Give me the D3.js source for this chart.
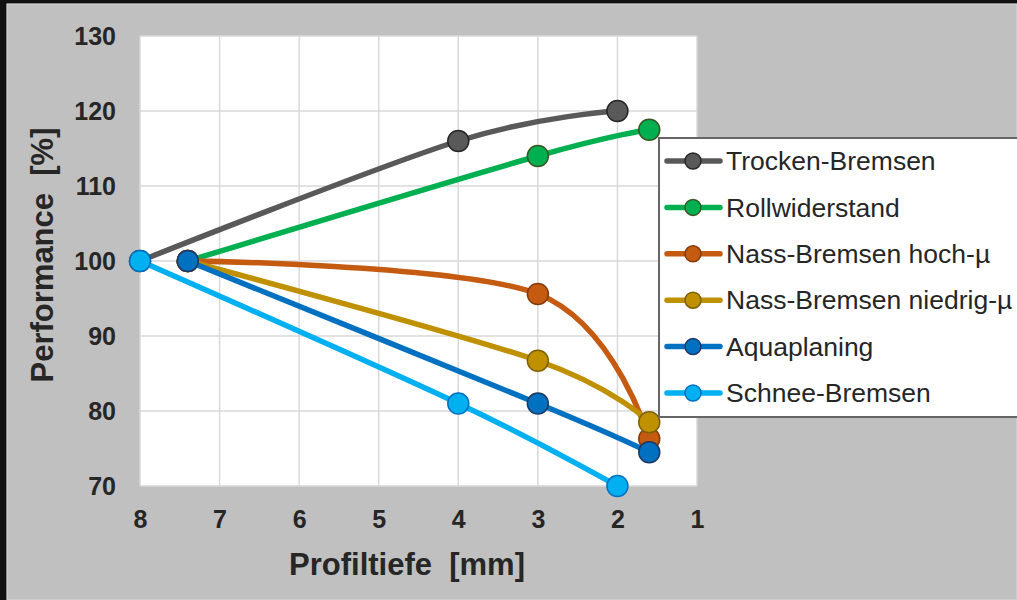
<!DOCTYPE html>
<html>
<head>
<meta charset="utf-8">
<script src="https://cdn.jsdelivr.net/npm/d3@7"></script>
<style>
  html, body { margin: 0; padding: 0; background: #000; }
  svg { display: block; }
  text { font-family: "Liberation Sans", Arial, sans-serif; fill: #262626; white-space: pre; }
</style>
</head>
<body>
<svg id="chart" width="1017" height="600"></svg>
<script>
// Tread depth (mm) for each measured point of a series
const depthTrocken = [8, 4, 2];
const depthRoll = [7.4, 3, 1.6];
const depthNassHoch = [7.4, 3, 1.6];
const depthNassNiedrig = [7.4, 3, 1.6];
const depthAqua = [7.4, 3, 1.6];
const depthSchnee = [8, 4, 2];

// Performance in percent of a new tyre
const perfTrocken = [100, 116, 120];
const perfRoll = [100, 114, 117.5];
const perfNassHoch = [100, 95.6, 76.3];
const perfNassNiedrig = [100, 86.7, 78.5];
const perfAqua = [100, 81, 74.5];
const perfSchnee = [100, 81, 70];

const seriesNames = ["Trocken-Bremsen", "Rollwiderstand", "Nass-Bremsen hoch-\u00b5",
                     "Nass-Bremsen niedrig-\u00b5", "Aquaplaning", "Schnee-Bremsen"];
const lineColors = ["#595959", "#00b050", "#c55a11", "#bf9000", "#0070c0", "#00b0f0"];
const markerStrokes = ["#262626", "#385723", "#843c0c", "#7f6000", "#1f3864", "#0070c0"];

const xTicks = [8, 7, 6, 5, 4, 3, 2, 1];
const yTicks = [70, 80, 90, 100, 110, 120, 130];

const series = [
  { name: seriesNames[0], x: depthTrocken, y: perfTrocken },
  { name: seriesNames[1], x: depthRoll, y: perfRoll },
  { name: seriesNames[2], x: depthNassHoch, y: perfNassHoch },
  { name: seriesNames[3], x: depthNassNiedrig, y: perfNassNiedrig },
  { name: seriesNames[4], x: depthAqua, y: perfAqua },
  { name: seriesNames[5], x: depthSchnee, y: perfSchnee }
].map((s, i) => ({ ...s, color: lineColors[i], stroke: markerStrokes[i],
                   points: s.x.map((v, j) => [v, s.y[j]]) }));

const svg = d3.select("#chart");
const W = 1017, H = 600;

// Frame: dark outer border, grey chart area
svg.append("rect").attr("x", 0).attr("y", 0).attr("width", W).attr("height", H).attr("fill", "#111");
svg.append("rect").attr("x", 7).attr("y", 4).attr("width", W - 7).attr("height", H - 4)
  .attr("fill", "#c0c0c0").attr("stroke", "#d6d6d6").attr("stroke-width", 1.2);

const plot = { left: 140, right: 697, top: 36, bottom: 486 };

const x = d3.scaleLinear().domain([8, 1]).range([plot.left, plot.right]);
const y = d3.scaleLinear().domain([70, 130]).range([plot.bottom, plot.top]);

// Plot area
svg.append("rect")
  .attr("x", plot.left).attr("y", plot.top)
  .attr("width", plot.right - plot.left).attr("height", plot.bottom - plot.top)
  .attr("fill", "#ffffff");

// Gridlines
const grid = svg.append("g").attr("stroke", "#d9d9d9").attr("stroke-width", 1.5);
grid.selectAll("line.h").data(yTicks).join("line")
  .attr("x1", plot.left).attr("x2", plot.right)
  .attr("y1", d => y(d)).attr("y2", d => y(d));
grid.selectAll("line.v").data(xTicks).join("line")
  .attr("y1", plot.top).attr("y2", plot.bottom)
  .attr("x1", d => x(d)).attr("x2", d => x(d));

// Axes (labels only)
const xAxis = svg.append("g")
  .attr("transform", `translate(0,${plot.bottom})`)
  .call(d3.axisBottom(x).tickValues(xTicks).tickFormat(d3.format("d")).tickSize(0).tickPadding(24));
const yAxis = svg.append("g")
  .attr("transform", `translate(${plot.left},0)`)
  .call(d3.axisLeft(y).tickValues(yTicks).tickFormat(d3.format("d")).tickSize(0).tickPadding(24));
[xAxis, yAxis].forEach(a => {
  a.select(".domain").remove();
  a.selectAll("text")
    .style("font-family", "'Liberation Sans', Arial, sans-serif")
    .style("font-weight", "bold").style("font-size", "25px").attr("fill", "#262626");
});

// Axis titles
svg.append("text")
  .attr("x", 407).attr("y", 575)
  .attr("text-anchor", "middle")
  .style("font-weight", "bold").style("font-size", "31px")
  .text("Profiltiefe  [mm]");
svg.append("text")
  .attr("transform", "translate(53,255) rotate(-90)")
  .attr("text-anchor", "middle")
  .style("font-weight", "bold").style("font-size", "31px")
  .text("Performance  [%]");

// Series: smoothed lines with round markers, drawn in order
const line = d3.line()
  .x(d => x(d[0])).y(d => y(d[1]))
  .curve(d3.curveCatmullRom.alpha(0));

series.forEach(s => {
  const g = svg.append("g");
  g.append("path")
    .attr("d", line(s.points))
    .attr("fill", "none")
    .attr("stroke", s.color)
    .attr("stroke-width", 5.5)
    .attr("stroke-linecap", "round");
  g.selectAll("circle").data(s.points).join("circle")
    .attr("cx", d => x(d[0])).attr("cy", d => y(d[1]))
    .attr("r", 10.5)
    .attr("fill", s.color)
    .attr("stroke", s.stroke)
    .attr("stroke-width", 1.5);
});

// Legend
const legend = svg.append("g");
legend.append("rect")
  .attr("x", 659).attr("y", 138).attr("width", 380).attr("height", 279)
  .attr("fill", "#ffffff").attr("stroke", "#666666").attr("stroke-width", 2);
const rowY = d3.scalePoint().domain(seriesNames).range([161, 393]);
series.forEach(s => {
  const ry = rowY(s.name);
  legend.append("line")
    .attr("x1", 667).attr("x2", 720).attr("y1", ry).attr("y2", ry)
    .attr("stroke", s.color).attr("stroke-width", 5.5).attr("stroke-linecap", "round");
  legend.append("circle")
    .attr("cx", 693).attr("cy", ry).attr("r", 8)
    .attr("fill", s.color).attr("stroke", s.stroke).attr("stroke-width", 1.5);
  legend.append("text")
    .attr("x", 726).attr("y", ry).attr("dy", "0.35em")
    .style("font-size", "26.5px")
    .text(s.name);
});
</script>
</body>
</html>
